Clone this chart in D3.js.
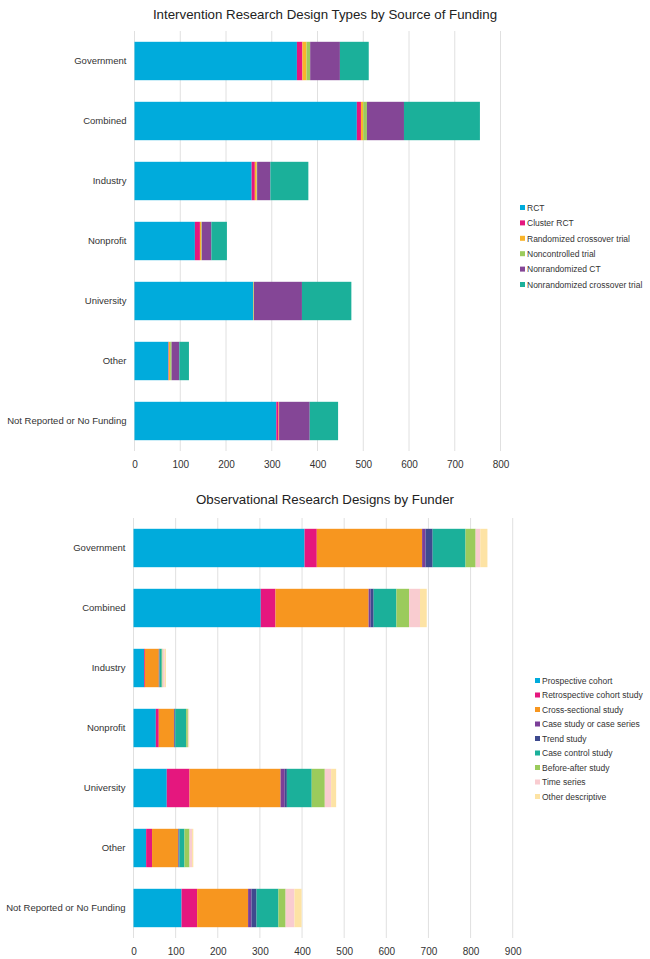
<!DOCTYPE html>
<html>
<head>
<meta charset="utf-8">
<script src="https://cdn.jsdelivr.net/npm/d3@7"></script>
<style>
  body { margin: 0; background: #fff; font-family: "Liberation Sans", Arial, sans-serif; }
  .grid line { stroke: #e0e0e0; }
  .tick text { fill: #333; }
</style>
</head>
<body>
<div id="chart"></div>
<script>
// funder categories, shared by both charts
const funders = ['Government', 'Combined', 'Industry', 'Nonprofit', 'University', 'Other', 'Not Reported or No Funding'];

// intervention designs
const interventionTypes = ['RCT', 'Cluster RCT', 'Randomized crossover trial', 'Noncontrolled trial', 'Nonrandomized CT', 'Nonrandomized crossover trial'];
const interventionColors = ['#00abdc', '#e5177e', '#f9b42a', '#9bcb5c', '#844696', '#1bb09a'];
const rct = [355, 486, 256, 132, 259, 74, 310];
const clusterRct = [12, 9, 7, 11, 0, 1, 5];
const randCrossover = [9, 5, 4, 3, 1, 3, 1];
const noncontrolled = [8, 8, 1, 1, 1, 3, 0];
const nonrandCt = [65, 81, 29, 21, 105, 17, 67];
const nonrandCrossover = [63, 166, 83, 34, 108, 21, 62];
const interventionTicks = [0, 100, 200, 300, 400, 500, 600, 700, 800];

// observational designs
const observationalTypes = ['Prospective cohort', 'Retrospective cohort study', 'Cross-sectional study', 'Case study or case series', 'Trend study', 'Case control study', 'Before-after study', 'Time series', 'Other descriptive'];
const observationalColors = ['#00abdc', '#e5177e', '#f7961f', '#7b3f98', '#3e4a8e', '#1bb09a', '#9bcb5c', '#f9ccd0', '#fde3a4'];
const prospective = [406, 302, 25, 53, 79, 30, 114];
const retrospective = [29, 35, 2, 7, 54, 14, 37];
const crossSectional = [250, 221, 33, 36, 216, 62, 121];
const caseStudy = [8, 5, 1, 1, 10, 1, 8];
const trendStudy = [17, 7, 1, 2, 5, 2, 12];
const caseControl = [78, 54, 5, 26, 59, 12, 52];
const beforeAfter = [24, 30, 2, 4, 31, 12, 17];
const timeSeries = [11, 26, 5, 2, 15, 6, 21];
const otherDescriptive = [17, 16, 3, 1, 12, 3, 17];
const observationalTicks = [0, 100, 200, 300, 400, 500, 600, 700, 800, 900];

const W = 650, H = 959;
const svg = d3.select('#chart').append('svg').attr('width', W).attr('height', H);

function buildRows(series, keys) {
    return funders.map((f, i) => {
        const row = { funder: f };
        keys.forEach((k, j) => { row[k] = series[j][i]; });
        return row;
    });
}

function drawChart(cfg) {
    const g = svg.append('g');
    const x = d3.scaleLinear().domain([0, cfg.ticks[cfg.ticks.length - 1]]).range([cfg.x0, cfg.x1]);
    const y = d3.scaleBand().domain(funders).range([cfg.top, cfg.bottom]).paddingInner(0.36).paddingOuter(0.18);

    g.append('text')
        .attr('x', 325).attr('y', cfg.titleY)
        .attr('text-anchor', 'middle')
        .style('font-size', '13.3px').style('fill', '#222')
        .text(cfg.title);

    // gridlines
    g.append('g').attr('class', 'grid')
        .selectAll('line').data(cfg.ticks).join('line')
        .attr('x1', d => x(d)).attr('x2', d => x(d))
        .attr('y1', cfg.top).attr('y2', cfg.bottom);

    const rows = buildRows(cfg.series, cfg.keys);
    const stacked = d3.stack().keys(cfg.keys)(rows);
    const color = d3.scaleOrdinal().domain(cfg.keys).range(cfg.colors);

    g.append('g').selectAll('g').data(stacked).join('g')
        .attr('fill', d => color(d.key))
        .selectAll('rect').data(d => d).join('rect')
        .attr('x', d => x(d[0]))
        .attr('width', d => Math.max(0, x(d[1]) - x(d[0])))
        .attr('y', d => y(d.data.funder))
        .attr('height', y.bandwidth());

    // x axis labels
    const xAxis = g.append('g')
        .attr('transform', 'translate(0,' + cfg.bottom + ')')
        .call(d3.axisBottom(x).tickValues(cfg.ticks).tickSize(0).tickPadding(10));
    xAxis.select('.domain').remove();
    xAxis.selectAll('text').style('font-size', '10px').style('font-family', '"Liberation Sans", Arial, sans-serif');

    // category labels
    const yAxis = g.append('g')
        .attr('transform', 'translate(' + (cfg.x0 - 8) + ',0)')
        .call(d3.axisLeft(y).tickSize(0).tickPadding(0));
    yAxis.select('.domain').remove();
    yAxis.selectAll('text').style('font-size', '9.5px').style('font-family', '"Liberation Sans", Arial, sans-serif');

    // legend
    const legend = g.append('g')
        .attr('transform', 'translate(' + cfg.legendX + ',' + cfg.legendY + ')');
    const item = legend.selectAll('g').data(cfg.keys).join('g')
        .attr('transform', (d, i) => 'translate(0,' + i * cfg.legendStep + ')');
    item.append('rect')
        .attr('x', 0).attr('y', -3).attr('width', 5).attr('height', 5)
        .attr('fill', d => color(d));
    item.append('text')
        .attr('x', 7).attr('y', 0).attr('dy', '0.33em')
        .style('font-size', '8.5px').style('fill', '#333')
        .text(d => d);
}

drawChart({
    title: 'Intervention Research Design Types by Source of Funding',
    titleY: 19,
    top: 31, bottom: 451,
    x0: 134.5, x1: 500.5,
    ticks: interventionTicks,
    keys: interventionTypes,
    colors: interventionColors,
    series: [rct, clusterRct, randCrossover, noncontrolled, nonrandCt, nonrandCrossover],
    legendX: 520, legendY: 208, legendStep: 15.4
});

drawChart({
    title: 'Observational Research Designs by Funder',
    titleY: 504,
    top: 518, bottom: 938,
    x0: 133.5, x1: 512.7,
    ticks: observationalTicks,
    keys: observationalTypes,
    colors: observationalColors,
    series: [prospective, retrospective, crossSectional, caseStudy, trendStudy, caseControl, beforeAfter, timeSeries, otherDescriptive],
    legendX: 535, legendY: 681, legendStep: 14.5
});
</script>
</body>
</html>
